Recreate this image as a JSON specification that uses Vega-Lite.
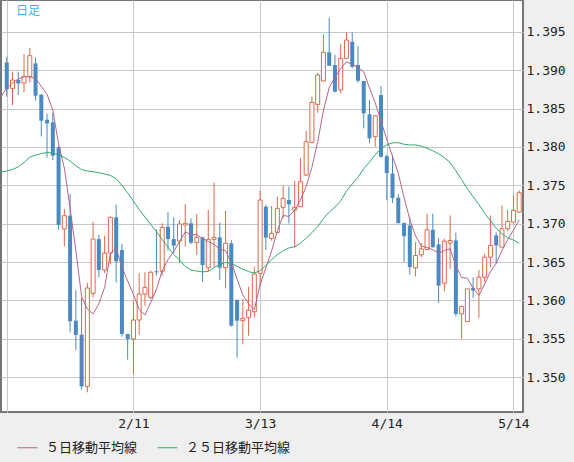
{
"$schema": "https://vega.github.io/schema/vega-lite/v6.json",
"width": 522, "height": 412,
"autosize": {"type": "none"},
"padding": {"left": 1, "top": 0, "right": 51, "bottom": 50},
"background": "#efefef",
"view": {"fill": "white", "stroke": "#767676", "strokeWidth": 2},
"title": {"text": "日足", "anchor": "start", "orient": "top", "frame": "group", "font": "Noto Sans CJK JP", "fontSize": 12, "fontWeight": "normal", "color": "#3cb4e8", "offset": -18, "dx": 15, "baseline": "top"},
"data": {"values": [
{"d":"1/9","m5":1.38654,"m25":1.37673},
{"d":"1/10","o":1.391,"h":1.39174,"l":1.38654,"c":1.3875,"m5":1.38763,"m25":1.37685},
{"d":"1/13","o":1.38762,"h":1.38979,"l":1.38545,"c":1.38871,"m5":1.38832,"m25":1.37706},
{"d":"1/14","o":1.38871,"h":1.38979,"l":1.38675,"c":1.38827,"m5":1.38884,"m25":1.37741},
{"d":"1/15","o":1.38832,"h":1.39209,"l":1.3871,"c":1.38918,"m5":1.38914,"m25":1.37797},
{"d":"1/16","o":1.38918,"h":1.39287,"l":1.3884,"c":1.39188,"m5":1.38911,"m25":1.37867},
{"d":"1/17","o":1.39088,"h":1.39166,"l":1.38602,"c":1.38667,"m5":1.38894,"m25":1.37892},
{"d":"1/20","o":1.3868,"h":1.38688,"l":1.38137,"c":1.38341,"m5":1.38788,"m25":1.37913},
{"d":"1/21","o":1.38354,"h":1.38432,"l":1.3786,"c":1.38306,"m5":1.38684,"m25":1.37926},
{"d":"1/22","o":1.3832,"h":1.38445,"l":1.37829,"c":1.37886,"m5":1.38478,"m25":1.37921},
{"d":"1/23","o":1.37994,"h":1.38016,"l":1.36922,"c":1.36983,"m5":1.38037,"m25":1.37897},
{"d":"1/24","o":1.36931,"h":1.37191,"l":1.36705,"c":1.37104,"m5":1.37724,"m25":1.37862},
{"d":"1/27","o":1.37104,"h":1.37386,"l":1.35585,"c":1.35729,"m5":1.37202,"m25":1.37816},
{"d":"1/28","o":1.35737,"h":1.36136,"l":1.35355,"c":1.35551,"m5":1.36651,"m25":1.37755},
{"d":"1/29","o":1.35555,"h":1.36041,"l":1.34839,"c":1.34882,"m5":1.3605,"m25":1.37704},
{"d":"1/30","o":1.34882,"h":1.36232,"l":1.34804,"c":1.36163,"m5":1.35886,"m25":1.37687},
{"d":"1/31","o":1.36093,"h":1.37026,"l":1.36041,"c":1.368,"m5":1.35825,"m25":1.37676},
{"d":"2/3","o":1.368,"h":1.36853,"l":1.36301,"c":1.36397,"m5":1.35959,"m25":1.37665},
{"d":"2/4","o":1.36397,"h":1.36844,"l":1.36358,"c":1.36618,"m5":1.36172,"m25":1.37647},
{"d":"2/5","o":1.36618,"h":1.37092,"l":1.36475,"c":1.37083,"m5":1.36612,"m25":1.37628},
{"d":"2/6","o":1.37083,"h":1.37248,"l":1.36236,"c":1.3651,"m5":1.36682,"m25":1.37586},
{"d":"2/7","o":1.36657,"h":1.36735,"l":1.35529,"c":1.35564,"m5":1.36434,"m25":1.37499},
{"d":"2/10","o":1.35564,"h":1.3557,"l":1.35229,"c":1.35499,"m5":1.36255,"m25":1.37402},
{"d":"2/11","o":1.35499,"h":1.35998,"l":1.35043,"c":1.35746,"m5":1.3608,"m25":1.37296},
{"d":"2/12","o":1.35746,"h":1.36358,"l":1.35551,"c":1.36084,"m5":1.35881,"m25":1.37184},
{"d":"2/13","o":1.36084,"h":1.36367,"l":1.35933,"c":1.36171,"m5":1.35813,"m25":1.37087},
{"d":"2/14","o":1.36041,"h":1.36388,"l":1.36019,"c":1.36367,"m5":1.35973,"m25":1.36991},
{"d":"2/17","o":1.3638,"h":1.36922,"l":1.36323,"c":1.36367,"m5":1.36147,"m25":1.36895},
{"d":"2/18","o":1.3638,"h":1.37004,"l":1.36323,"c":1.36952,"m5":1.36388,"m25":1.36792},
{"d":"2/19","o":1.36961,"h":1.37148,"l":1.36649,"c":1.368,"m5":1.36531,"m25":1.36697},
{"d":"2/20","o":1.368,"h":1.37083,"l":1.36614,"c":1.36714,"m5":1.3664,"m25":1.36599},
{"d":"2/21","o":1.36774,"h":1.37048,"l":1.36492,"c":1.36996,"m5":1.36766,"m25":1.36527},
{"d":"2/24","o":1.36983,"h":1.37256,"l":1.36701,"c":1.37005,"m5":1.36893,"m25":1.36443},
{"d":"2/25","o":1.37005,"h":1.3707,"l":1.36735,"c":1.36753,"m5":1.36854,"m25":1.36397},
{"d":"2/26","o":1.36757,"h":1.37122,"l":1.36592,"c":1.36822,"m5":1.36858,"m25":1.36384},
{"d":"2/27","o":1.36822,"h":1.3683,"l":1.36245,"c":1.36462,"m5":1.36808,"m25":1.36372},
{"d":"2/28","o":1.36427,"h":1.37178,"l":1.36375,"c":1.36796,"m5":1.36768,"m25":1.3638},
{"d":"3/3","o":1.36796,"h":1.37534,"l":1.3644,"c":1.36822,"m5":1.36731,"m25":1.36428},
{"d":"3/4","o":1.36822,"h":1.37013,"l":1.36267,"c":1.36427,"m5":1.36666,"m25":1.36467},
{"d":"3/5","o":1.36427,"h":1.37169,"l":1.36158,"c":1.36744,"m5":1.3665,"m25":1.36496},
{"d":"3/6","o":1.36744,"h":1.36787,"l":1.3566,"c":1.35672,"m5":1.36492,"m25":1.36484},
{"d":"3/7","o":1.36006,"h":1.36015,"l":1.35255,"c":1.35737,"m5":1.3628,"m25":1.36445},
{"d":"3/10","o":1.35737,"h":1.36019,"l":1.35429,"c":1.35768,"m5":1.3607,"m25":1.36408},
{"d":"3/11","o":1.35776,"h":1.3618,"l":1.35542,"c":1.35876,"m5":1.35959,"m25":1.36376},
{"d":"3/12","o":1.35854,"h":1.3644,"l":1.35781,"c":1.36345,"m5":1.3588,"m25":1.36358},
{"d":"3/13","o":1.36353,"h":1.3743,"l":1.36202,"c":1.37308,"m5":1.36207,"m25":1.36387},
{"d":"3/14","o":1.37221,"h":1.37243,"l":1.36657,"c":1.36818,"m5":1.36423,"m25":1.36457},
{"d":"3/17","o":1.36809,"h":1.3723,"l":1.36779,"c":1.36874,"m5":1.36644,"m25":1.36531},
{"d":"3/18","o":1.36887,"h":1.37352,"l":1.36874,"c":1.372,"m5":1.36909,"m25":1.36598},
{"d":"3/19","o":1.37213,"h":1.37491,"l":1.3707,"c":1.3733,"m5":1.37106,"m25":1.36647},
{"d":"3/20","o":1.37308,"h":1.37482,"l":1.37004,"c":1.37252,"m5":1.37095,"m25":1.36684},
{"d":"3/21","o":1.37178,"h":1.37556,"l":1.36692,"c":1.37213,"m5":1.37174,"m25":1.367},
{"d":"3/24","o":1.37221,"h":1.37859,"l":1.37221,"c":1.37547,"m5":1.37308,"m25":1.36745},
{"d":"3/25","o":1.37634,"h":1.38207,"l":1.37621,"c":1.38068,"m5":1.37482,"m25":1.3681},
{"d":"3/26","o":1.38059,"h":1.38654,"l":1.38046,"c":1.3858,"m5":1.37732,"m25":1.36883},
{"d":"3/27","o":1.38554,"h":1.38966,"l":1.38445,"c":1.38936,"m5":1.38069,"m25":1.36961},
{"d":"3/28","o":1.38858,"h":1.39465,"l":1.3885,"c":1.39231,"m5":1.38472,"m25":1.37068},
{"d":"3/31","o":1.39231,"h":1.39682,"l":1.39057,"c":1.39057,"m5":1.38774,"m25":1.3715},
{"d":"4/1","o":1.39066,"h":1.39196,"l":1.38711,"c":1.38719,"m5":1.38905,"m25":1.37217},
{"d":"4/2","o":1.3874,"h":1.39339,"l":1.38697,"c":1.39153,"m5":1.39019,"m25":1.37298},
{"d":"4/3","o":1.39153,"h":1.39491,"l":1.39144,"c":1.39391,"m5":1.3911,"m25":1.37426},
{"d":"4/4","o":1.3937,"h":1.39491,"l":1.39023,"c":1.39044,"m5":1.39073,"m25":1.37517},
{"d":"4/7","o":1.39066,"h":1.39313,"l":1.38836,"c":1.38862,"m5":1.39034,"m25":1.37605},
{"d":"4/8","o":1.38858,"h":1.38858,"l":1.38241,"c":1.38437,"m5":1.38977,"m25":1.37715},
{"d":"4/9","o":1.38424,"h":1.3861,"l":1.38046,"c":1.38111,"m5":1.38769,"m25":1.37803},
{"d":"4/10","o":1.38133,"h":1.38415,"l":1.38003,"c":1.38406,"m5":1.38572,"m25":1.37897},
{"d":"4/11","o":1.38675,"h":1.38793,"l":1.3786,"c":1.37872,"m5":1.38338,"m25":1.3798},
{"d":"4/14","o":1.37878,"h":1.379,"l":1.37304,"c":1.3766,"m5":1.38097,"m25":1.38027},
{"d":"4/15","o":1.37652,"h":1.379,"l":1.37269,"c":1.37334,"m5":1.37877,"m25":1.38052},
{"d":"4/16","o":1.37338,"h":1.37382,"l":1.37,"c":1.37008,"m5":1.37656,"m25":1.38055},
{"d":"4/17","o":1.37008,"h":1.37017,"l":1.36499,"c":1.36838,"m5":1.37342,"m25":1.38035},
{"d":"4/18","o":1.36977,"h":1.37086,"l":1.36338,"c":1.36434,"m5":1.37055,"m25":1.38025},
{"d":"4/21","o":1.36425,"h":1.3676,"l":1.36316,"c":1.36586,"m5":1.3684,"m25":1.38025},
{"d":"4/22","o":1.36595,"h":1.3675,"l":1.36565,"c":1.36673,"m5":1.36708,"m25":1.38009},
{"d":"4/23","o":1.36664,"h":1.3713,"l":1.36655,"c":1.36921,"m5":1.3669,"m25":1.37983},
{"d":"4/24","o":1.36921,"h":1.3713,"l":1.36686,"c":1.36695,"m5":1.36662,"m25":1.37949},
{"d":"4/25","o":1.3673,"h":1.36812,"l":1.35968,"c":1.36194,"m5":1.36614,"m25":1.3791},
{"d":"4/28","o":1.36225,"h":1.36803,"l":1.3612,"c":1.36773,"m5":1.36651,"m25":1.37862},
{"d":"4/29","o":1.36747,"h":1.37108,"l":1.36412,"c":1.36782,"m5":1.36673,"m25":1.37794},
{"d":"4/30","o":1.36782,"h":1.36882,"l":1.35794,"c":1.35825,"m5":1.36454,"m25":1.3769},
{"d":"5/1","o":1.35825,"h":1.35934,"l":1.355,"c":1.3592,"m5":1.36299,"m25":1.37574},
{"d":"5/2","o":1.35725,"h":1.36151,"l":1.35725,"c":1.36151,"m5":1.3629,"m25":1.37454},
{"d":"5/5","o":1.36164,"h":1.36303,"l":1.36034,"c":1.36129,"m5":1.36161,"m25":1.37352},
{"d":"5/6","o":1.36151,"h":1.36399,"l":1.35773,"c":1.36303,"m5":1.36066,"m25":1.37249},
{"d":"5/7","o":1.36303,"h":1.36608,"l":1.36238,"c":1.36564,"m5":1.36213,"m25":1.37135},
{"d":"5/8","o":1.36564,"h":1.37108,"l":1.36434,"c":1.36716,"m5":1.36373,"m25":1.37042},
{"d":"5/9","o":1.36847,"h":1.3689,"l":1.36477,"c":1.36716,"m5":1.36486,"m25":1.36941},
{"d":"5/12","o":1.36695,"h":1.37238,"l":1.36695,"c":1.36934,"m5":1.36647,"m25":1.36868},
{"d":"5/13","o":1.36934,"h":1.37182,"l":1.36904,"c":1.3703,"m5":1.36792,"m25":1.36818},
{"d":"5/14","o":1.37021,"h":1.37369,"l":1.37005,"c":1.37173,"m5":1.36914,"m25":1.36786},
{"d":"5/15","o":1.37151,"h":1.37434,"l":1.3714,"c":1.37404,"m5":1.37051,"m25":1.36745}
]},
"encoding": {
  "x": {"field": "d", "type": "ordinal",
    "scale": {"type": "point", "padding": 0.33, "align": 0, "round": false,
      "domain": ["1/9","1/10","1/13","1/14","1/15","1/16","1/17","1/20","1/21","1/22","1/23","1/24","1/27","1/28","1/29","1/30","1/31","2/3","2/4","2/5","2/6","2/7","2/10","2/11","2/12","2/13","2/14","2/17","2/18","2/19","2/20","2/21","2/24","2/25","2/26","2/27","2/28","3/3","3/4","3/5","3/6","3/7","3/10","3/11","3/12","3/13","3/14","3/17","3/18","3/19","3/20","3/21","3/24","3/25","3/26","3/27","3/28","3/31","4/1","4/2","4/3","4/4","4/7","4/8","4/9","4/10","4/11","4/14","4/15","4/16","4/17","4/18","4/21","4/22","4/23","4/24","4/25","4/28","4/29","4/30","5/1","5/2","5/5","5/6","5/7","5/8","5/9","5/12","5/13","5/14","5/15"]},
    "axis": {"values": ["1/10","2/11","3/13","4/14","5/14"], "labelExpr": "datum.value == '1/10' ? '' : datum.value", "title": null, "ticks": false, "domain": false, "grid": true, "gridColor": "#c8c8c8", "gridWidth": 1, "labelAngle": 0, "labelFont": "DejaVu Sans Mono", "labelFontSize": 13, "labelColor": "#222222", "labelPadding": 5}}
},
"layer": [
  {"mark": {"type": "rule", "strokeWidth": 1},
   "encoding": {
     "y": {"field": "l", "type": "quantitative", "scale": {"domain": [1.34548, 1.39913], "zero": false, "nice": false},
       "axis": {"orient": "right", "values": [1.35,1.355,1.36,1.365,1.37,1.375,1.38,1.385,1.39,1.395], "format": ".3f", "title": null, "ticks": false, "domain": false, "grid": true, "gridColor": "#c8c8c8", "gridWidth": 1, "labelFont": "DejaVu Sans Mono", "labelFontSize": 13, "labelColor": "#222222", "labelPadding": 3}},
     "y2": {"field": "h"},
     "color": {"condition": {"test": "datum.c >= datum.o", "value": "#dc6a4a"}, "value": "#4a8ac2"}
   }},
  {"mark": {"type": "bar", "width": 4, "strokeWidth": 1},
   "encoding": {
     "y": {"field": "o", "type": "quantitative",
       "axis": {"orient": "right", "values": [1.35,1.355,1.36,1.365,1.37,1.375,1.38,1.385,1.39,1.395], "format": ".3f", "title": null, "ticks": false, "domain": false, "grid": true, "gridColor": "#c8c8c8", "gridWidth": 1, "labelFont": "DejaVu Sans Mono", "labelFontSize": 13, "labelColor": "#222222", "labelPadding": 3}},
     "y2": {"field": "c"},
     "fill": {"condition": {"test": "datum.c >= datum.o", "value": "#ffffff"}, "value": "#4a8ac2"},
     "stroke": {"condition": {"test": "datum.c >= datum.o", "value": "#dc6a4a"}, "value": "transparent"}
   }},
  {"transform": [{"fold": ["m5", "m25"], "as": ["k", "v"]}],
   "mark": {"type": "line", "strokeWidth": 1},
   "encoding": {
     "y": {"field": "v", "type": "quantitative",
       "axis": {"orient": "right", "values": [1.35,1.355,1.36,1.365,1.37,1.375,1.38,1.385,1.39,1.395], "format": ".3f", "title": null, "ticks": false, "domain": false, "grid": true, "gridColor": "#c8c8c8", "gridWidth": 1, "labelFont": "DejaVu Sans Mono", "labelFontSize": 13, "labelColor": "#222222", "labelPadding": 3}},
     "color": {"field": "k", "type": "nominal",
       "scale": {"domain": ["m5", "m25"], "range": ["#b8628d", "#2eab6f"]},
       "legend": {"orient": "none", "legendX": 16, "legendY": 437, "direction": "horizontal", "title": null, "padding": 0, "symbolType": "stroke", "symbolSize": 400, "symbolStrokeWidth": 1, "labelFont": "Noto Sans CJK JP", "labelFontSize": 13, "labelColor": "#222222", "labelOffset": 8, "columnPadding": 17, "labelExpr": "datum.value == 'm5' ? '５日移動平均線' : '２５日移動平均線'"}}
   }}
],
"resolve": {"scale": {"color": "independent"}}
}
